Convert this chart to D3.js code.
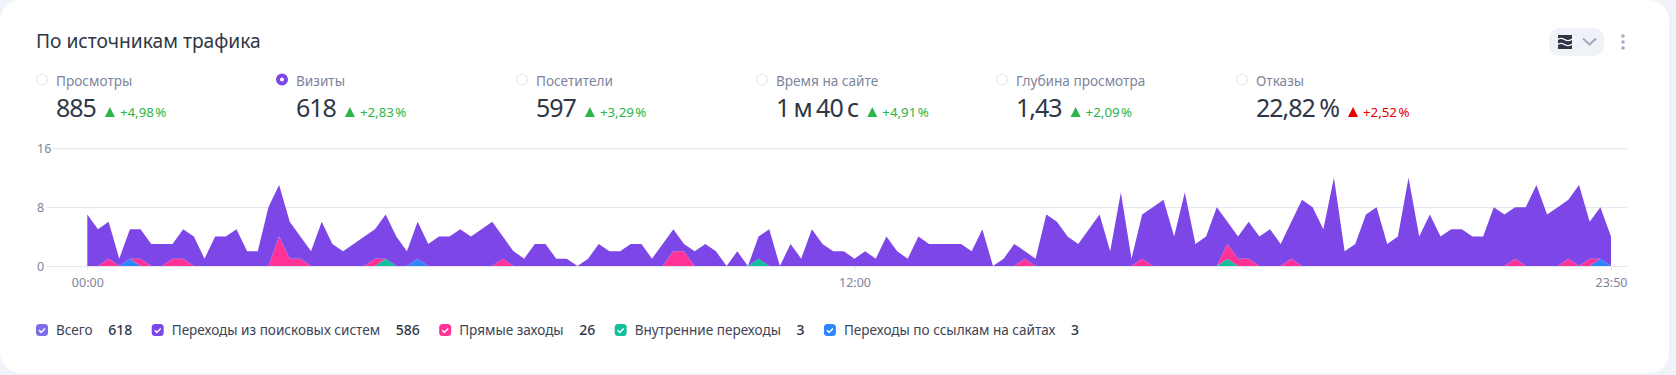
<!DOCTYPE html>
<html>
<head>
<meta charset="utf-8">
<script src="https://cdn.jsdelivr.net/npm/d3@7"></script>
<style>
html, body { margin: 0; padding: 0; background: #eff2f8; }
svg { display: block; }
text { font-family: "Noto Sans", sans-serif; }
</style>
</head>
<body>
<svg width="1676" height="375"></svg>
<script>
var metricNames = ["Просмотры", "Визиты", "Посетители", "Время на сайте", "Глубина просмотра", "Отказы"];
var metricValues = ["885", "618", "597", "1 м 40 с", "1,43", "22,82 %"];
var metricDeltas = ["+4,98 %", "+2,83 %", "+3,29 %", "+4,91 %", "+2,09 %", "+2,52 %"];
var metricBad = [false, false, false, false, false, true];

var legendNames = ["Всего", "Переходы из поисковых систем", "Прямые заходы", "Внутренние переходы", "Переходы по ссылкам на сайтах"];
var legendTotals = ["618", "586", "26", "3", "3"];
var legendColors = ["#7b6ee8", "#7c47e6", "#ff3397", "#14bf9c", "#2e86ff"];

var yTicks = [0, 8, 16];
var xLabels = ["00:00", "12:00", "23:50"];
var xLabelIndex = [0, 72, 143];

// visits per 10 minutes, one array per traffic source
var search = [
  7,5,5,1,4,4,3,3,2,4, 4,1,4,4,5,2,2,8,7,5, 3,2,6,3,2,3,4,4,6,4,
  2,5,3,4,4,5,4,5,6,3, 2,1,3,3,1,1,0,1,3,2, 2,3,3,1,3,3,1,2,3,2,
  0,2,0,3,5,0,3,1,5,3, 2,2,1,2,1,4,2,1,4,3, 3,3,3,2,5,0,1,3,1,1,
  7,6,4,3,5,7,2,10,1,6, 8,9,4,10,3,4,8,3,3,5, 4,5,3,5,9,8,5,12,2,3,
  7,8,3,4,12,4,7,4,5,5, 4,4,8,7,7,8,11,7,8,8, 11,5,7,4];
var direct = [
  0,0,1,0,0,1,0,0,1,1, 0,0,0,0,0,0,0,0,4,1, 1,0,0,0,0,0,0,1,0,0,
  0,0,0,0,0,0,0,0,0,1, 0,0,0,0,0,0,0,0,0,0, 0,0,0,0,0,2,2,0,0,0,
  0,0,0,0,0,0,0,0,0,0, 0,0,0,0,0,0,0,0,0,0, 0,0,0,0,0,0,0,0,1,0,
  0,0,0,0,0,0,0,0,0,1, 0,0,0,0,0,0,0,2,1,1, 0,0,0,1,0,0,0,0,0,0,
  0,0,0,0,0,0,0,0,0,0, 0,0,0,0,1,0,0,0,0,1, 0,1,0,0];
var internal = [
  0,0,0,0,0,0,0,0,0,0, 0,0,0,0,0,0,0,0,0,0, 0,0,0,0,0,0,0,0,1,0,
  0,0,0,0,0,0,0,0,0,0, 0,0,0,0,0,0,0,0,0,0, 0,0,0,0,0,0,0,0,0,0,
  0,0,0,1,0,0,0,0,0,0, 0,0,0,0,0,0,0,0,0,0, 0,0,0,0,0,0,0,0,0,0,
  0,0,0,0,0,0,0,0,0,0, 0,0,0,0,0,0,0,1,0,0, 0,0,0,0,0,0,0,0,0,0,
  0,0,0,0,0,0,0,0,0,0, 0,0,0,0,0,0,0,0,0,0, 0,0,0,0];
var links = [
  0,0,0,0,1,0,0,0,0,0, 0,0,0,0,0,0,0,0,0,0, 0,0,0,0,0,0,0,0,0,0,
  0,1,0,0,0,0,0,0,0,0, 0,0,0,0,0,0,0,0,0,0, 0,0,0,0,0,0,0,0,0,0,
  0,0,0,0,0,0,0,0,0,0, 0,0,0,0,0,0,0,0,0,0, 0,0,0,0,0,0,0,0,0,0,
  0,0,0,0,0,0,0,0,0,0, 0,0,0,0,0,0,0,0,0,0, 0,0,0,0,0,0,0,0,0,0,
  0,0,0,0,0,0,0,0,0,0, 0,0,0,0,0,0,0,0,0,0, 0,0,1,0];

var svg = d3.select("svg");

// card
svg.append("rect").attr("x", 0).attr("y", 0).attr("width", 1669).attr("height", 373)
    .attr("rx", 20).attr("fill", "#fff");

svg.append("text").attr("x", 36).attr("y", 48).attr("font-size", 19.2).attr("fill", "#2f3747")
    .text("По источникам трафика");

// chart type button
svg.append("rect").attr("x", 1549).attr("y", 28).attr("width", 55).attr("height", 28)
    .attr("rx", 10).attr("fill", "#eff2f7");
svg.append("rect").attr("x", 1558).attr("y", 35).attr("width", 14).attr("height", 14).attr("fill", "#2f3747");
[39, 44].forEach(function(y) {
  svg.append("path").attr("d", "M1557 " + (y + 1) + "q3.5 -3 7.5 -.5t8 -.5")
      .attr("fill", "none").attr("stroke", "#fff").attr("stroke-width", 1.4);
});
svg.append("path").attr("d", "M1583 38.5l6.5 6l6.5 -6").attr("fill", "none")
    .attr("stroke", "#a4abc0").attr("stroke-width", 2.2);
[36, 42, 48].forEach(function(y) {
  svg.append("circle").attr("cx", 1623).attr("cy", y).attr("r", 1.8).attr("fill", "#a4abc0");
});

// metrics row
var metricX = d3.scaleLinear().domain([0, 5]).range([42, 1242]);
var metric = svg.selectAll(".metric").data(metricNames).enter().append("g")
    .attr("class", "metric")
    .attr("transform", function(d, i) { return "translate(" + metricX(i) + ",0)"; });

metric.append("circle").attr("cy", 79.5).attr("r", 5.5)
    .attr("fill", "#fff").attr("stroke", "#e6e9f0").attr("stroke-width", 1.2);
metric.filter(function(d, i) { return i == 1; }).select("circle")
    .attr("r", 4).attr("fill", "#fff").attr("stroke", "#7c47e6").attr("stroke-width", 4);

metric.append("text").attr("x", 14).attr("y", 85.5).attr("font-size", 13.6).attr("fill", "#7d859c")
    .text(function(d) { return d; });
metric.append("text").attr("class", "val").attr("x", 14).attr("y", 116.5).attr("font-size", 25)
    .attr("letter-spacing", -1).attr("word-spacing", -1.2).attr("fill", "#2f3747")
    .text(function(d, i) { return metricValues[i]; });

metric.each(function(d, i) {
  var g = d3.select(this);
  var w = g.select(".val").node().getComputedTextLength();
  var color = metricBad[i] ? "#e60000" : "#2db54a";
  var tx = 14 + w + 9;
  g.append("path").attr("d", "M" + tx + " 117l5 -10l5 10z").attr("fill", color);
  g.append("text").attr("x", tx + 15).attr("y", 117).attr("font-size", 13.3).attr("word-spacing", -2)
      .attr("fill", color).text(metricDeltas[i]);
});

// chart
var x = d3.scaleLinear().domain([0, 143]).range([87.3, 1611]);
var y = d3.scaleLinear().domain([0, 16]).range([266, 148.3]);

var rows = search.map(function(d, i) {
  return {i: i, search: d, direct: direct[i], internal: internal[i], links: links[i]};
});
var keys = ["links", "internal", "direct", "search"];
var keyColor = {links: legendColors[4], internal: legendColors[3], direct: legendColors[2], search: legendColors[1]};
var layers = d3.stack().keys(keys)(rows);

var area = d3.area()
    .x(function(d) { return x(d.data.i); })
    .y0(function(d) { return y(d[0]); })
    .y1(function(d) { return y(d[1]); });

var yAxis = d3.axisLeft(y).tickValues(yTicks).tickSize(0);
var gy = svg.append("g").attr("transform", "translate(47,0)").call(yAxis);
gy.select(".domain").remove();
gy.selectAll("line").attr("x1", function(d) { return d == 16 ? 6 : 0; }).attr("x2", 1580)
    .attr("stroke", "#e3e4f0").attr("stroke-width", 1);
gy.selectAll("text").attr("x", -10).attr("text-anchor", "start").attr("font-size", 12.5).attr("fill", "#7d859c")
    .attr("font-family", '"Noto Sans", sans-serif');

svg.selectAll(".layer").data(layers).enter().append("path")
    .attr("class", "layer")
    .attr("fill", function(d) { return keyColor[d.key]; })
    .attr("d", area);

var xAxis = d3.axisBottom(x).tickValues(xLabelIndex)
    .tickFormat(function(d, i) { return xLabels[i]; }).tickSize(4).tickPadding(8);
var gx = svg.append("g").attr("transform", "translate(0,266)").call(xAxis);
gx.select(".domain").remove();
gx.selectAll("line").attr("stroke", "#dfe1ea");
gx.selectAll("text").attr("font-size", 12.5).attr("fill", "#7d859c")
    .attr("font-family", '"Noto Sans", sans-serif');

// legend
var cursor = 36;
legendNames.forEach(function(name, i) {
  var g = svg.append("g").attr("transform", "translate(" + cursor + ",330)");
  g.append("rect").attr("y", -6).attr("width", 12).attr("height", 12).attr("rx", 3.5).attr("fill", legendColors[i]);
  g.append("path").attr("d", "M3 0.2l2.2 2.2l3.8 -4").attr("fill", "none").attr("stroke", "#fff").attr("stroke-width", 1.5);
  var label = g.append("text").attr("x", 20).attr("y", 5).attr("font-size", 13.55).attr("fill", "#3c4456").text(name);
  var w = label.node().getComputedTextLength();
  var val = g.append("text").attr("x", 20 + w + 15.5).attr("y", 5).attr("font-size", 14)
      .attr("font-weight", 500).attr("fill", "#2f3747").text(legendTotals[i]);
  cursor += 20 + w + 15.5 + val.node().getComputedTextLength() + 19.5;
});
</script>
</body>
</html>
